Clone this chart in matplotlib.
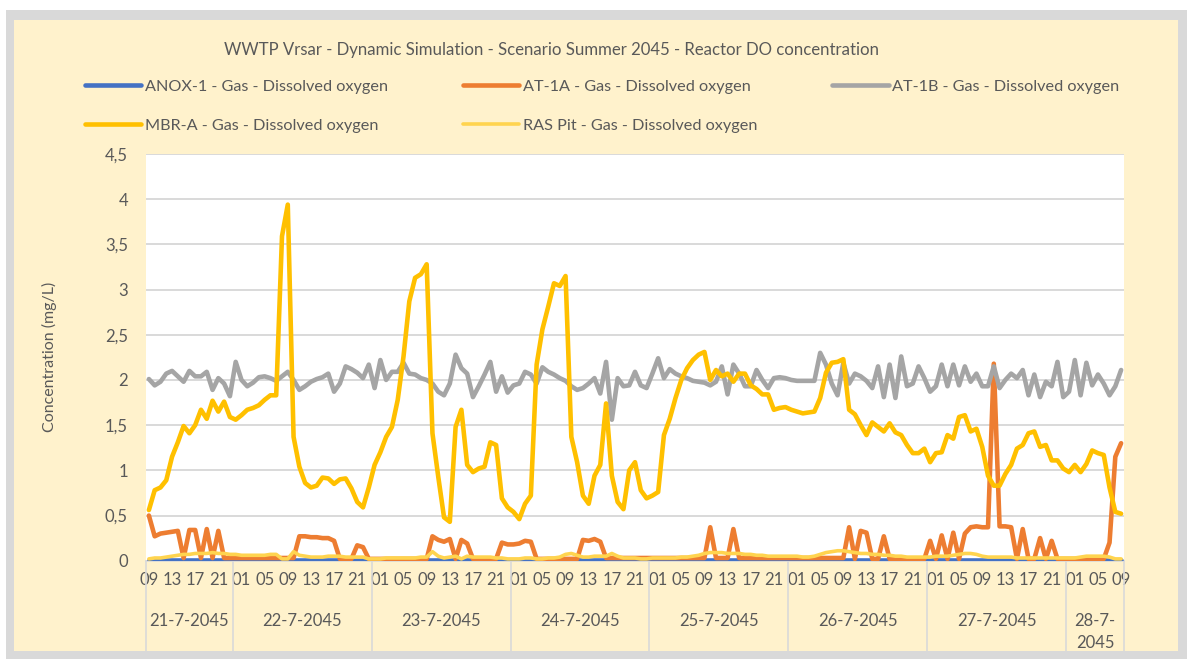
import pandas as pd
import matplotlib
matplotlib.use('Agg')
import matplotlib.pyplot as plt
from matplotlib.patches import Rectangle
from matplotlib.ticker import FuncFormatter

plt.rcParams['font.family'] = ['Lato', 'DejaVu Sans']

# hourly results, 21-7-2045 09:00 .. 28-7-2045 09:00
times = pd.date_range('2045-07-21 09:00', '2045-07-28 09:00', freq='h')

anox_1 = [
    0.01, 0.01, 0.01, 0.01, 0.01, 0.01, 0.01, 0.01, 0.01, 0.01, 0.01, 0.01, 0.01, 0.01, 0.01,
    0.01, 0.01, 0.01, 0.01, 0.01, 0.01, 0.01, 0.01, 0.01, 0.01, 0.01, 0.01, 0.01, 0.01, 0.01, 0.01, 0.01, 0.01, 0.01, 0.01, 0.01, 0.01, 0.01, 0.01,
    0.01, 0.01, 0.01, 0.01, 0.01, 0.01, 0.01, 0.01, 0.01, 0.01, 0.01, 0.01, 0.01, 0.01, 0.01, 0.01, 0.01, 0.01, 0.01, 0.01, 0.01, 0.01, 0.01, 0.01,
    0.01, 0.01, 0.01, 0.01, 0.01, 0.01, 0.01, 0.01, 0.01, 0.01, 0.01, 0.01, 0.01, 0.01, 0.01, 0.01, 0.01, 0.01, 0.01, 0.01, 0.01, 0.01, 0.01, 0.01,
    0.01, 0.01, 0.01, 0.01, 0.01, 0.01, 0.01, 0.01, 0.01, 0.01, 0.01, 0.01, 0.01, 0.01, 0.01, 0.01, 0.01, 0.01, 0.01, 0.01, 0.01, 0.01, 0.01, 0.01,
    0.01, 0.01, 0.01, 0.01, 0.01, 0.01, 0.01, 0.01, 0.01, 0.01, 0.01, 0.01, 0.01, 0.01, 0.01, 0.01, 0.01, 0.01, 0.01, 0.01, 0.01, 0.01, 0.01, 0.01,
    0.01, 0.01, 0.01, 0.01, 0.01, 0.01, 0.01, 0.01, 0.01, 0.01, 0.01, 0.01, 0.01, 0.01, 0.01, 0.01, 0.01, 0.01, 0.01, 0.01, 0.01, 0.01, 0.01, 0.01,
    0.01, 0.01, 0.01, 0.01, 0.01, 0.01, 0.01, 0.01, 0.01, 0.01,
]
at_1a = [
    0.50, 0.27, 0.30, 0.31, 0.32, 0.33, 0.03, 0.34, 0.34, 0.03, 0.35, 0.03, 0.33, 0.03, 0.03,
    0.03, 0.03, 0.03, 0.03, 0.03, 0.03, 0.03, 0.03, 0.03, 0.03, 0.03, 0.27, 0.27, 0.26, 0.26, 0.25, 0.25, 0.22, 0.02, 0.02, 0.02, 0.17, 0.15, 0.02,
    0.02, 0.02, 0.02, 0.02, 0.02, 0.02, 0.02, 0.02, 0.02, 0.02, 0.27, 0.23, 0.21, 0.24, 0.02, 0.23, 0.19, 0.02, 0.02, 0.02, 0.02, 0.02, 0.20, 0.18,
    0.18, 0.19, 0.22, 0.21, 0.02, 0.02, 0.02, 0.02, 0.02, 0.02, 0.02, 0.02, 0.23, 0.22, 0.24, 0.21, 0.03, 0.03, 0.03, 0.03, 0.03, 0.03, 0.03, 0.03,
    0.03, 0.03, 0.03, 0.03, 0.03, 0.03, 0.03, 0.03, 0.03, 0.03, 0.37, 0.03, 0.03, 0.03, 0.35, 0.03, 0.03, 0.03, 0.03, 0.03, 0.03, 0.03, 0.03, 0.03,
    0.03, 0.03, 0.03, 0.03, 0.03, 0.03, 0.03, 0.03, 0.03, 0.03, 0.37, 0.02, 0.33, 0.31, 0.02, 0.02, 0.27, 0.02, 0.02, 0.02, 0.02, 0.02, 0.02, 0.02,
    0.22, 0.02, 0.28, 0.02, 0.31, 0.02, 0.30, 0.37, 0.38, 0.37, 0.37, 2.18, 0.38, 0.38, 0.37, 0.02, 0.35, 0.02, 0.02, 0.25, 0.02, 0.22, 0.02, 0.02,
    0.02, 0.02, 0.02, 0.02, 0.02, 0.02, 0.02, 0.20, 1.15, 1.30,
]
at_1b = [
    2.01, 1.94, 1.98, 2.07, 2.10, 2.04, 1.98, 2.10, 2.04, 2.04, 2.09, 1.89, 2.02, 1.96, 1.82,
    2.20, 2.00, 1.93, 1.97, 2.03, 2.04, 2.02, 1.99, 2.04, 2.09, 2.00, 1.89, 1.93, 1.98, 2.01, 2.03, 2.07, 1.87, 1.96, 2.15, 2.12, 2.08, 2.02, 2.17,
    1.91, 2.22, 2.00, 2.09, 2.09, 2.19, 2.07, 2.06, 2.02, 2.00, 1.96, 1.87, 1.83, 1.96, 2.28, 2.13, 2.07, 1.81, 1.93, 2.06, 2.20, 1.87, 2.04, 1.86,
    1.94, 1.96, 2.09, 2.06, 1.96, 2.14, 2.09, 2.06, 2.02, 1.99, 1.93, 1.89, 1.91, 1.96, 2.02, 1.85, 2.20, 1.56, 2.02, 1.93, 1.94, 2.09, 1.94, 1.91,
    2.07, 2.24, 2.02, 2.12, 2.07, 2.04, 2.02, 1.99, 1.98, 1.97, 1.94, 1.98, 2.15, 1.84, 2.17, 2.07, 1.93, 1.93, 2.11, 2.00, 1.91, 2.02, 2.03, 2.02,
    2.00, 1.99, 1.99, 1.99, 1.99, 2.30, 2.17, 1.96, 1.83, 2.19, 1.96, 2.07, 2.04, 1.99, 1.91, 2.15, 1.81, 2.17, 1.80, 2.26, 1.93, 1.96, 2.15, 2.02,
    1.87, 1.93, 2.17, 1.93, 2.17, 1.94, 2.15, 1.98, 2.07, 1.93, 1.93, 2.15, 1.91, 2.00, 2.07, 2.02, 2.11, 1.83, 2.06, 1.81, 1.98, 1.93, 2.20, 1.81,
    1.87, 2.22, 1.83, 2.19, 1.94, 2.06, 1.96, 1.83, 1.93, 2.11,
]
mbr_a = [
    0.56, 0.78, 0.81, 0.89, 1.15, 1.31, 1.49, 1.41, 1.50, 1.67, 1.57, 1.77, 1.65, 1.76, 1.59,
    1.56, 1.61, 1.67, 1.69, 1.72, 1.78, 1.83, 1.83, 3.59, 3.94, 1.37, 1.04, 0.86, 0.81, 0.83, 0.92, 0.91, 0.85, 0.90, 0.91, 0.80, 0.65, 0.59, 0.81,
    1.06, 1.20, 1.37, 1.48, 1.78, 2.26, 2.87, 3.13, 3.17, 3.28, 1.41, 0.93, 0.48, 0.43, 1.48, 1.67, 1.06, 0.98, 1.02, 1.04, 1.31, 1.28, 0.69, 0.59,
    0.54, 0.46, 0.63, 0.72, 2.17, 2.56, 2.81, 3.07, 3.04, 3.15, 1.37, 1.09, 0.72, 0.63, 0.94, 1.06, 1.74, 0.94, 0.65, 0.57, 1.00, 1.09, 0.78, 0.69,
    0.72, 0.76, 1.39, 1.57, 1.80, 2.00, 2.13, 2.22, 2.28, 2.31, 2.00, 2.11, 2.04, 2.07, 1.98, 2.07, 2.07, 1.94, 1.90, 1.84, 1.84, 1.67, 1.69, 1.70,
    1.67, 1.65, 1.63, 1.64, 1.65, 1.80, 2.08, 2.19, 2.20, 2.23, 1.67, 1.62, 1.50, 1.39, 1.53, 1.48, 1.43, 1.52, 1.42, 1.39, 1.28, 1.19, 1.19, 1.24,
    1.09, 1.19, 1.20, 1.39, 1.35, 1.59, 1.61, 1.43, 1.46, 1.26, 0.94, 0.83, 0.83, 0.96, 1.06, 1.24, 1.28, 1.41, 1.43, 1.26, 1.28, 1.11, 1.11, 1.02,
    0.98, 1.06, 0.98, 1.07, 1.22, 1.19, 1.17, 0.81, 0.54, 0.52,
]
ras_pit = [
    0.02, 0.03, 0.03, 0.04, 0.05, 0.06, 0.07, 0.07, 0.08, 0.08, 0.08, 0.09, 0.08, 0.08, 0.07,
    0.07, 0.06, 0.06, 0.06, 0.06, 0.06, 0.07, 0.07, 0.02, 0.02, 0.10, 0.06, 0.05, 0.04, 0.04, 0.04, 0.05, 0.05, 0.05, 0.04, 0.04, 0.04, 0.04, 0.02,
    0.02, 0.02, 0.03, 0.03, 0.03, 0.03, 0.03, 0.03, 0.04, 0.04, 0.10, 0.05, 0.03, 0.04, 0.05, 0.02, 0.05, 0.04, 0.04, 0.04, 0.04, 0.03, 0.03, 0.02,
    0.02, 0.02, 0.03, 0.03, 0.02, 0.02, 0.03, 0.03, 0.04, 0.07, 0.08, 0.06, 0.04, 0.04, 0.05, 0.05, 0.05, 0.08, 0.05, 0.03, 0.03, 0.03, 0.02, 0.02,
    0.03, 0.03, 0.03, 0.03, 0.03, 0.04, 0.04, 0.05, 0.06, 0.08, 0.09, 0.09, 0.09, 0.08, 0.08, 0.08, 0.07, 0.07, 0.06, 0.06, 0.05, 0.05, 0.05, 0.05,
    0.05, 0.05, 0.04, 0.04, 0.05, 0.07, 0.09, 0.10, 0.11, 0.11, 0.10, 0.09, 0.08, 0.08, 0.07, 0.07, 0.06, 0.06, 0.05, 0.05, 0.04, 0.04, 0.04, 0.04,
    0.04, 0.05, 0.05, 0.05, 0.06, 0.07, 0.08, 0.08, 0.07, 0.05, 0.04, 0.04, 0.04, 0.04, 0.04, 0.03, 0.03, 0.03, 0.03, 0.03, 0.03, 0.03, 0.03, 0.03,
    0.03, 0.03, 0.04, 0.05, 0.05, 0.05, 0.05, 0.04, 0.02, 0.02,
]

series = [
    ('ANOX-1 - Gas - Dissolved oxygen', anox_1, '#4472C4', 3.3),
    ('AT-1A - Gas - Dissolved oxygen', at_1a, '#ED7D31', 3.3),
    ('AT-1B - Gas - Dissolved oxygen', at_1b, '#A5A5A5', 3.3),
    ('MBR-A - Gas - Dissolved oxygen', mbr_a, '#FFC000', 3.3),
    ('RAS Pit - Gas - Dissolved oxygen', ras_pit, '#FFD44F', 2.6),
]

title = 'WWTP Vrsar - Dynamic Simulation - Scenario Summer 2045 - Reactor DO concentration'
text_color = '#595959'
grid_color = '#D9D9D9'

W, H = 1192, 660
fig = plt.figure(figsize=(W / 100, H / 100), dpi=100)
fig.patch.set_facecolor('white')

def fx(px):
    return px / W

def fy(py):
    return 1 - py / H

# chart frame
fig.patches.append(Rectangle((fx(6), fy(659)), fx(1187) - fx(6), fy(10) - fy(659),
                             transform=fig.transFigure, facecolor='#D9D9D9',
                             edgecolor='none', zorder=-2))
fig.patches.append(Rectangle((fx(14), fy(651)), fx(1178) - fx(14), fy(20) - fy(651),
                             transform=fig.transFigure, facecolor='#FFF2CC',
                             edgecolor='none', zorder=-1))

ax = fig.add_axes([fx(146), fy(560.7), fx(1124) - fx(146), fy(154) - fy(560.7)])
ax.set_facecolor('white')

x = list(range(len(times)))
handles = []
for i, (name, vals, color, lw) in enumerate(series):
    ln, = ax.plot(x, vals, color=color, lw=lw, label=name, zorder=3 + i,
                  solid_joinstyle='round', solid_capstyle='round')
    handles.append(ln)

ax.set_xlim(-0.5, len(times) - 0.5)
ax.set_ylim(0, 4.5)
ax.set_yticks([0.5 * k for k in range(10)])
ax.yaxis.set_major_formatter(FuncFormatter(lambda v, p: f'{v:g}'.replace('.', ',')))
ax.grid(axis='y', color=grid_color, lw=1.4, zorder=0)
ax.set_axisbelow(True)
for s in ['top', 'right', 'left']:
    ax.spines[s].set_visible(False)
ax.spines['bottom'].set_color(grid_color)
ax.spines['bottom'].set_linewidth(1.2)
ax.tick_params(axis='y', length=0, pad=13, labelsize=12, labelcolor=text_color)

# hour labels every 4 hours
hour_ticks = x[::4]
ax.set_xticks(hour_ticks)
ax.set_xticklabels([times[k].strftime('%H') for k in hour_ticks])
ax.tick_params(axis='x', length=0, pad=8, labelsize=12, labelcolor=text_color)

ax.set_ylabel('Concentration (mg/L)', fontsize=11.5, color=text_color)
ax.yaxis.set_label_coords((57 - 146) / 978, 0.5)

# day groups under the hour labels
day_sep_bottom = -(651 - 560.7) / 406.7
days = sorted(set(times.normalize()))
xform = ax.get_xaxis_transform()
bounds = []
for d in days:
    idx = [k for k, t in enumerate(times) if t.normalize() == d]
    bounds.append((idx[0] - 0.5, idx[-1] + 0.5))
edges = sorted(set([b for pair in bounds for b in pair]))
for e in edges:
    ax.plot([e, e], [0, day_sep_bottom], transform=xform, color=grid_color,
            lw=1.2, clip_on=False, zorder=1)
for d, (a, b) in zip(days, bounds):
    label = f'{d.day}-{d.month}-{d.year}'
    mid = (a + b) / 2
    if b - a < 12:
        ax.text(mid, -(613 - 560.7) / 406.7, f'{d.day}-{d.month}-\n{d.year}',
                transform=xform, ha='center', va='top', fontsize=12,
                color=text_color, linespacing=1.45)
    else:
        ax.text(mid, -(621 - 560.7) / 406.7, label, transform=xform,
                ha='center', va='center', fontsize=12, color=text_color)

fig.text(fx(551), fy(50), title, ha='center', va='center', fontsize=12.1,
         color=text_color)

# row-major legend: matplotlib fills columns first
order = [0, 3, 1, 4, 2]
fig.legend([handles[k] for k in order], [series[k][0] for k in order],
           ncol=3, loc='upper left', bbox_to_anchor=(fx(78), fy(73)),
           frameon=False, fontsize=11.7, labelcolor=text_color,
           handlelength=3.5, handletextpad=0.2, columnspacing=4.6,
           labelspacing=1.5, borderaxespad=0)

fig.savefig('out.png', dpi=100, facecolor=fig.get_facecolor())
